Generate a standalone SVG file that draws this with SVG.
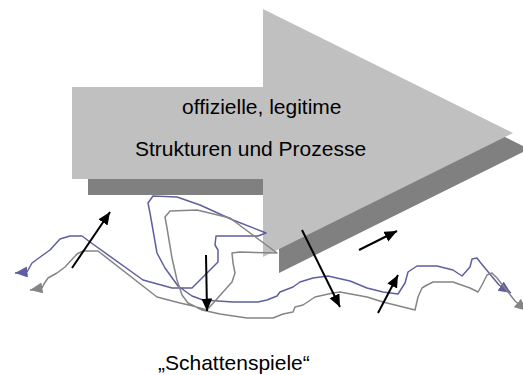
<svg xmlns="http://www.w3.org/2000/svg" width="523" height="375" viewBox="0 0 523 375">
  <defs>
    <style>
      .txt { font-family: "Liberation Sans", Arial, sans-serif; font-size: 21px; fill: #000; }
      .blue { fill: none; stroke: #5f5f9f; stroke-width: 1.5; stroke-linejoin: round; }
      .gray { fill: none; stroke: #858585; stroke-width: 1.5; stroke-linejoin: round; }
      .blk { fill: none; stroke: #000; stroke-width: 2; }
    </style>
    <marker id="hb" markerUnits="userSpaceOnUse" markerWidth="14" markerHeight="12" refX="12.5" refY="5.5" orient="auto-start-reverse">
      <path d="M0,0 L12.5,5.5 L0,11 z" fill="#5f5f9f"/>
    </marker>
    <marker id="hg" markerUnits="userSpaceOnUse" markerWidth="14" markerHeight="12" refX="12.5" refY="5.5" orient="auto-start-reverse">
      <path d="M0,0 L12.5,5.5 L0,11 z" fill="#858585"/>
    </marker>
    <marker id="hk" markerUnits="userSpaceOnUse" markerWidth="14" markerHeight="12" refX="12.5" refY="5.5" orient="auto">
      <path d="M0,0 L12.5,5.5 L0,11 z" fill="#000"/>
    </marker>
  </defs>
  <rect width="523" height="375" fill="#fff"/>

  <g id="main-arrow">
    <polygon points="88,103 279,103 279,25 529,149 279,273 279,195 88,195" fill="#808080"/>
    <polygon points="72,87 263,87 263,9 513,133 263,257 263,179 72,179" fill="#c0c0c0"/>
    <text class="txt" x="182" y="114">offizielle, legitime</text>
    <text class="txt" x="135" y="156">Strukturen und Prozesse</text>
  </g>

  <g id="connectors">
    <path class="blue" marker-start="url(#hb)" marker-end="url(#hb)" d="M15,273 L27,272 L32,263 L43,255 L50,250 L60,239 L70,236 L82,236 L90,242 L143,280 L172,288 L192,288 L218,262 L218,250 L215,245 L216,236 L258,236 L266,233 L233,220 L200,205 L177,197 L153,196 L148,203 L150,213 L157,253 L165,268 L178,286 L192,296 L203,300 L233,302 L258,302 L267,300 L277,296 L280,292 L293,287 L300,282 L313,278 L328,276 L350,281 L367,288 L383,292 L398,294 L405,283 L408,272 L417,266 L437,266 L453,270 L462,276 L470,267 L472,259 L477,258 L480,262 L499,285 L511,293"/>
    <path class="gray" marker-start="url(#hg)" marker-end="url(#hg)" d="M30,290 L42,288 L44,284 L48,278 L57,273 L65,267 L77,254 L83,251 L98,251 L157,297 L180,303 L193,306 L207,310 L232,282 L235,273 L233,263 L232,253 L240,252 L277,253 L230,218 L197,210 L170,211 L165,217 L167,228 L172,258 L177,280 L182,295 L188,303 L202,310 L220,314 L247,318 L273,318 L283,314 L293,312 L295,307 L303,305 L315,297 L333,293 L340,292 L367,297 L383,302 L415,310 L418,297 L422,288 L427,285 L433,282 L453,282 L470,288 L478,292 L482,285 L487,275 L492,273 L497,278 L515,301 L527,311"/>
    <path class="blk" marker-end="url(#hk)" d="M72,268 L110,212"/>
    <path class="blk" marker-end="url(#hk)" d="M206,255 L207,311"/>
    <path class="blk" marker-end="url(#hk)" d="M302,230 L340,307"/>
    <path class="blk" marker-end="url(#hk)" d="M359,250 L397,231"/>
    <path class="blk" marker-end="url(#hk)" d="M378,313 L398,275"/>
  </g>

  <g id="label">
    <text class="txt" x="158" y="370">„Schattenspiele“</text>
  </g>
</svg>
